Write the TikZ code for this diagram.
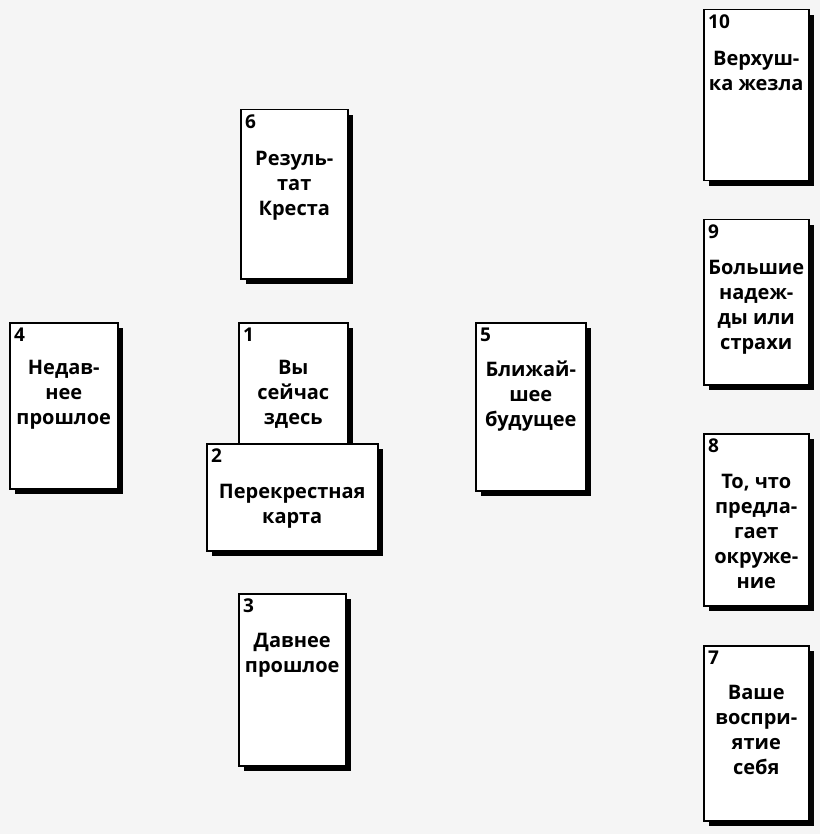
\documentclass[tikz,border=0pt]{standalone}
\usepackage{fontspec}
\setmainfont{Open Sans}
\usetikzlibrary{shadows}
\definecolor{bgcol}{HTML}{F5F5F5}
\tikzset{
  card/.style={draw=black, fill=white, line width=1.5pt, rectangle, anchor=north west, inner sep=0pt,
    drop shadow={shadow xshift=5pt, shadow yshift=-5pt, opacity=1, fill=black}},
  num/.style={anchor=north west, inner sep=0pt, font=\bfseries\fontsize{19}{20}\selectfont},
  txt/.style={anchor=north, inner sep=0pt, align=center, font=\bfseries\fontsize{20}{25}\selectfont}
}
\newcommand{\card}[7]{%
  \node[card, minimum width=#4pt, minimum height=#5pt] (c#1) at (#2,#3) {};
  \node[num] (n#1) at ([xshift=5pt,yshift=-6pt]c#1.north west) {#1};
  \node[txt] (t#1) at ([yshift=-#6pt]c#1.north) {#7};
}
\begin{document}
\begin{tikzpicture}[x=1pt,y=-1pt]
\useasboundingbox (0,0) rectangle (820,834);
\fill[bgcol] (0,0) rectangle (820,834);
\card{10}{703}{9}{105}{171}{42}{Верхуш-\\ка жезла}
\card{9}{703}{219}{105}{165}{41}{Большие\\надеж-\\ды или\\страхи}
\card{8}{703}{433}{105}{172}{41}{То, что\\предла-\\гает\\окруже-\\ние}
\card{7}{703}{645}{105}{175}{40}{Ваше\\воспри-\\ятие\\себя}
\card{6}{240}{109}{107}{169}{42}{Резуль-\\тат\\Креста}
\card{4}{9}{322}{108}{166}{38}{Недав-\\нее\\прошлое}
\card{1}{238}{322}{109}{170}{38}{Вы\\сейчас\\здесь}
\card{2}{206}{443}{171}{107}{41}{Перекрестная\\карта}
\card{5}{475}{322}{110}{168}{39}{Ближай-\\шее\\будущее}
\card{3}{238}{593}{107}{172}{40}{Давнее\\прошлое}
\end{tikzpicture}
\end{document}
